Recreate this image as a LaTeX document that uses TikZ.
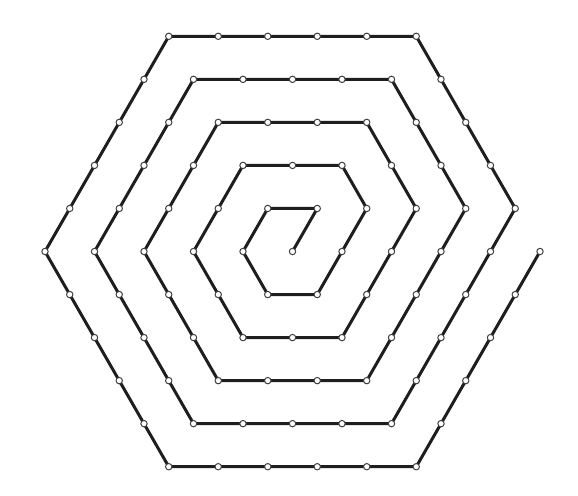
\documentclass[tikz,border=0pt]{standalone}
\newcount\spi \newcount\spj \newcount\spn
\newcommand\spstep[3]{%
  \ifnum#3>0
  \foreach \k in {1,...,#3}{%
    \global\advance\spi by #1\relax
    \global\advance\spj by #2\relax
    \global\advance\spn by 1\relax
    \coordinate (p\the\spn) at ({\the\spi+0.5*(\the\spj)},{0.866*(\the\spj)});
  }%
  \fi}
\definecolor{ink}{HTML}{1E1E1E}
\tikzset{
  spiral/.style={draw=ink, line width=1.5pt, line join=miter},
  dot/.style={circle, draw=ink!85, line width=0.5pt, fill=white, inner sep=0pt, minimum size=3.2pt}
}
\begin{document}
\begin{tikzpicture}[x=24.75pt,y=24.85pt]
\useasboundingbox (-146.25pt,-121.75pt) rectangle (142.75pt,125.75pt);
\coordinate (p0) at (0,0);
\global\spi=0 \global\spj=0 \global\spn=0
\foreach \n in {1,...,5}{%
  \pgfmathtruncatemacro\m{\n-1}%
  \spstep{0}{1}{\n}%
  \spstep{-1}{1}{\m}%
  \spstep{-1}{0}{\n}%
  \spstep{0}{-1}{\n}%
  \spstep{1}{-1}{\n}%
  \spstep{1}{0}{\n}%
}
\spstep{0}{1}{5}
\draw[spiral] (p0) \foreach \k in {1,...,90}{ -- (p\k)};
\foreach \k in {0,...,90}{\node[dot] (d\k) at (p\k) {};}
\end{tikzpicture}
\end{document}
